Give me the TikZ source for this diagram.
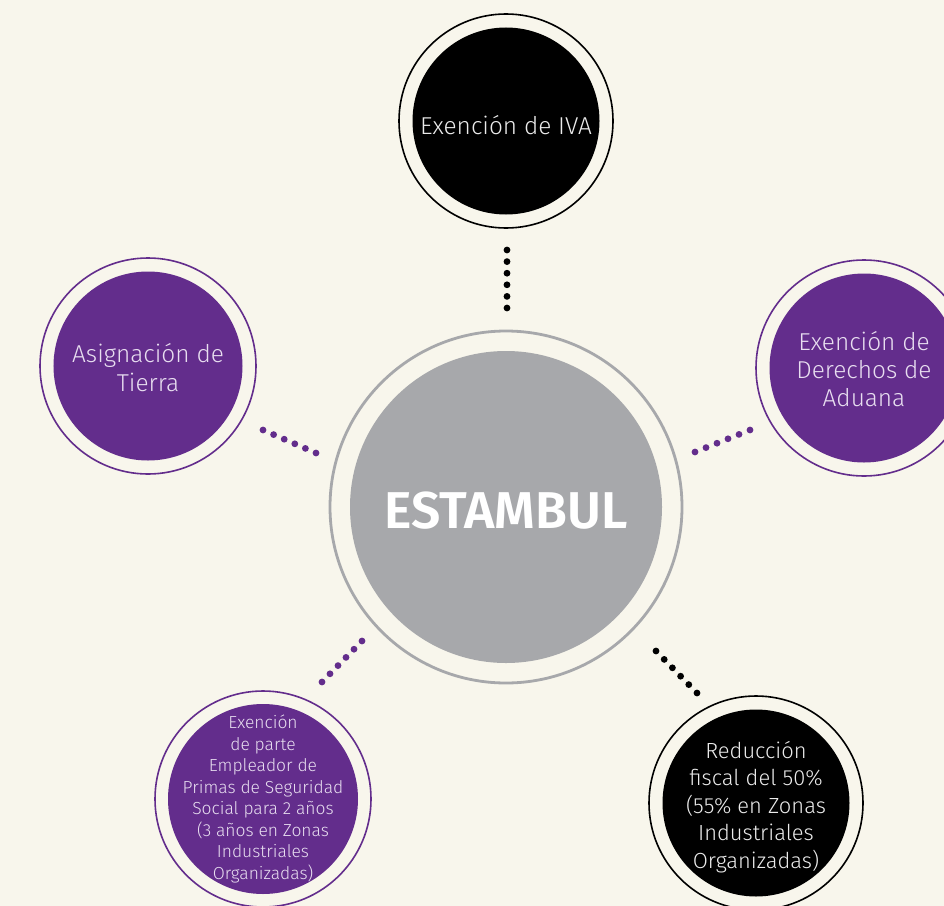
\documentclass[tikz,border=0pt]{standalone}
\usepackage{fontspec}
\setmainfont{Fira Sans Light}[BoldFont={Fira Sans SemiBold}]
\usetikzlibrary{calc}
\definecolor{bgc}{RGB}{248,246,236}
\definecolor{purp}{RGB}{99,45,140}
\definecolor{hubgray}{RGB}{167,168,171}
\definecolor{lav}{RGB}{232,222,240}
\definecolor{offw}{RGB}{235,235,235}
\tikzset{
  x=1bp, y=-1bp,
  disc/.style={circle, inner sep=0pt, minimum size=#1},
  purpdisc/.style={disc=#1, fill=purp},
  blackdisc/.style={disc=#1, fill=black},
  hubdisc/.style={disc=#1, fill=hubgray},
  txt/.style={align=center, inner sep=0pt},
  purptxt/.style={txt, text=lav},
  blacktxt/.style={txt, text=offw},
  purpring/.style={draw=purp, line width=1.6bp},
  blackring/.style={draw=black, line width=1.6bp},
  grayring/.style={draw=hubgray, line width=2.8bp},
}
\newcommand{\dotrow}[3]{\foreach \i in {0,...,5}{\fill[#3] ($(#1)!\i/5!(#2)$) circle (3.4bp);}}
\begin{document}
\begin{tikzpicture}
\useasboundingbox (0,0) rectangle (944,906);
\clip (0,0) rectangle (944,906);
\fill[bgc] (0,0) rectangle (944,906);

% hub
\node[hubdisc=312bp] (hub) at (506,507) {};
\draw[grayring] (hub.center) circle (176bp);
\node[txt, text=white, font=\bfseries\fontsize{52}{60}\selectfont] (hubT) at ($(hub.center)+(0,4)$) {ESTAMBUL};

% top
\node[blackdisc=187bp] (iva) at (506,121) {};
\draw[blackring] (iva.center) circle (107bp);
\node[blacktxt, font=\fontsize{24.5}{29}\selectfont] (ivaT) at ($(iva.center)+(0,4)$) {Exención de IVA};

% left
\node[purpdisc=189bp] (tierra) at (148,366) {};
\draw[purpring] (tierra.center) circle (108bp);
\node[purptxt, font=\fontsize{24.5}{29}\selectfont] (tierraT) at ($(tierra.center)+(0,2)$) {Asignación de\\Tierra};

% right
\node[purpdisc=189bp] (aduana) at (864,368) {};
\draw[purpring] (aduana.center) circle (108bp);
\node[purptxt, font=\fontsize{24.5}{28.5}\selectfont] (aduanaT) at ($(aduana.center)+(0,1)$) {Exención de\\Derechos de\\Aduana};

% bottom left
\node[purpdisc=190bp] (primas) at (263,799) {};
\draw[purpring] (primas.center) circle (108bp);
\node[purptxt, font=\fontsize{17.5}{21.6}\selectfont] (primasT) at ($(primas.center)+(0,0)$) {Exención\\de parte\\Empleador de\\Primas de Seguridad\\Social para 2 años\\(3 años en Zonas\\Industriales\\Organizadas)};

% bottom right
\node[blackdisc=187bp] (fiscal) at (756,803) {};
\draw[blackring] (fiscal.center) circle (107bp);
\node[blacktxt, font=\fontsize{22}{27.5}\selectfont] (fiscalT) at ($(fiscal.center)+(0,4)$) {Reducción\\fiscal del 50\%\\(55\% en Zonas\\Industriales\\Organizadas)};

% dotted connectors
\coordinate (t1) at (507,250); \coordinate (t2) at (507,308);
\coordinate (l1) at (263,430); \coordinate (l2) at (316,453);
\coordinate (r1) at (695,452); \coordinate (r2) at (750,430);
\coordinate (bl1) at (322,682); \coordinate (bl2) at (362,641);
\coordinate (br1) at (656,651); \coordinate (br2) at (697,693);
\dotrow{t1}{t2}{black}
\dotrow{l1}{l2}{purp}
\dotrow{r1}{r2}{purp}
\dotrow{bl1}{bl2}{purp}
\dotrow{br1}{br2}{black}
\end{tikzpicture}
\end{document}
